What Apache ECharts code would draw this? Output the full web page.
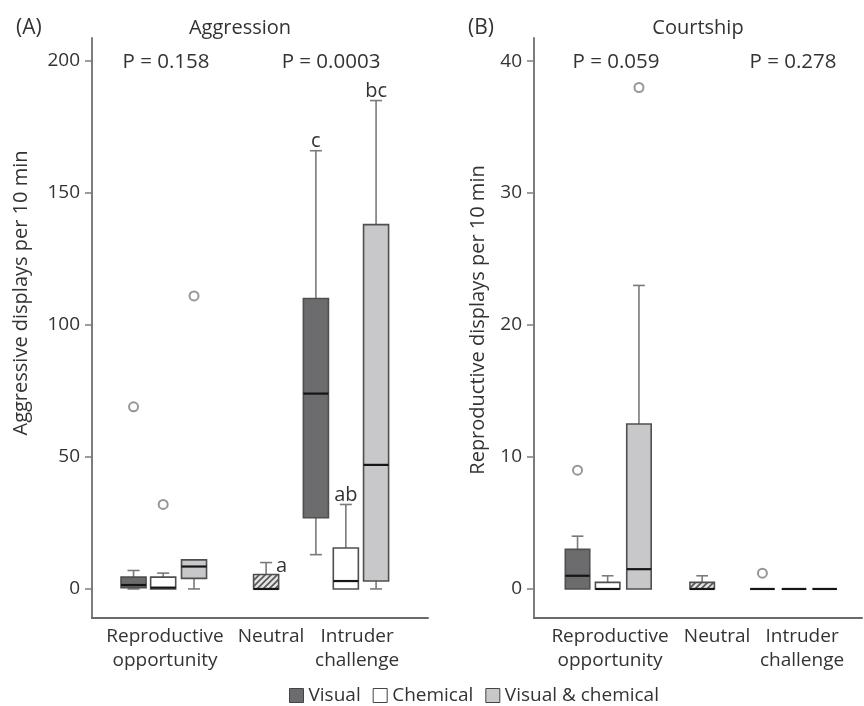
<!DOCTYPE html>
<html>
<head>
<meta charset="utf-8">
<style>
  html, body { margin: 0; padding: 0; background: #fff; }
  #chart { width: 864px; height: 706px; }
</style>
<script src="https://cdn.jsdelivr.net/npm/echarts@6/dist/echarts.min.js"></script>
</head>
<body>
<div id="chart"></div>
<script>
// ---- data ----
var groupNames = ['Reproductive\nopportunity', 'Neutral', 'Intruder\nchallenge'];
var aggTicks = [0, 50, 100, 150, 200];
var courtTicks = [0, 10, 20, 30, 40];

// box stats: [min, Q1, median, Q3, max], first = reproductive opportunity, second = intruder challenge
var aggVisual = [[0, 0.5, 1.5, 4.5, 7], [13, 27, 74, 110, 166]];
var aggChemical = [[0, 0, 0.5, 4.5, 6], [0, 0, 3, 15.5, 32]];
var aggBoth = [[0, 4, 8.5, 11, 11], [0, 3, 47, 138, 185]];
var aggNeutral = [[0, 0, 0, 5.5, 10]];
var aggOutVisual = [69];
var aggOutChemical = [32];
var aggOutBoth = [111];
var aggLettersVisual = ['', 'c'];
var aggLettersChemical = ['', 'ab'];
var aggLettersBoth = ['', 'bc'];
var aggLettersNeutral = ['a'];

var courtVisual = [[0, 0, 1, 3, 4], [0, 0, 0, 0, 0]];
var courtChemical = [[0, 0, 0, 0.5, 1], [0, 0, 0, 0, 0]];
var courtBoth = [[0, 0, 1.5, 12.5, 23], [0, 0, 0, 0, 0]];
var courtNeutral = [[0, 0, 0, 0.5, 1]];
var courtOutVisual = [9, 1.2];   // RO, IC
var courtOutBoth = [38];

var pAgg = ['P = 0.158', 'P = 0.0003'];
var pCourt = ['P = 0.059', 'P = 0.278'];

// ---- layout ----
var FONT = '"Open Sans", "Noto Sans", sans-serif';
var TXT = '#333';
var BOX_W = 0.82;
// x slots of the boxes on each panel's hidden value axis (0..11)
var posA = { visual: [1.36, 7.33], chemical: [2.33, 8.31], both: [3.34, 9.3], neutral: [5.7], labels: [2.39, 5.86, 8.68] };
var posB = { visual: [1.46, 7.66], chemical: [2.47, 8.72], both: [3.52, 9.75], neutral: [5.64], labels: [2.55, 6.14, 8.99] };

var fills = { visual: '#6c6c6f', chemical: '#ffffff', both: '#c8c8ca' };

function hatch() {
  var c = document.createElement('canvas');
  c.width = 6; c.height = 6;
  var g = c.getContext('2d');
  g.fillStyle = '#e4e4e4';
  g.fillRect(0, 0, 6, 6);
  g.strokeStyle = '#555';
  g.lineWidth = 1.6;
  g.beginPath();
  g.moveTo(-1, 7); g.lineTo(7, -1);
  g.moveTo(-1, 1); g.lineTo(1, -1);
  g.moveTo(5, 7); g.lineTo(7, 5);
  g.stroke();
  return c;
}
var hatchFill = { image: hatch(), repeat: 'repeat' };

function boxSeries(name, grid, xs, stats, letters, fill, letterRight) {
  var data = stats.map(function (s, i) { return [xs[i]].concat(s); });
  return {
    name: name,
    type: 'custom',
    xAxisIndex: grid,
    yAxisIndex: grid,
    itemStyle: { color: fill.image ? '#ccc' : fill, borderColor: '#4f4f4f' },
    encode: { x: 0, y: [1, 2, 3, 4, 5] },
    data: data,
    renderItem: function (params, api) {
      var x = api.value(0);
      var lo = api.coord([x, api.value(1)]);
      var q1 = api.coord([x, api.value(2)]);
      var md = api.coord([x, api.value(3)]);
      var q3 = api.coord([x, api.value(4)]);
      var hi = api.coord([x, api.value(5)]);
      var cx = lo[0];
      var w = api.size([BOX_W, 0])[0];
      var cw = w * 0.48;
      var whisk = { stroke: '#7a7a7a', lineWidth: 1.6 };
      var kids = [];
      if (q3[1] - hi[1] > 0.5) {
        kids.push({ type: 'line', shape: { x1: cx, y1: q3[1], x2: cx, y2: hi[1] }, style: whisk });
        kids.push({ type: 'line', shape: { x1: cx - cw / 2, y1: hi[1], x2: cx + cw / 2, y2: hi[1] }, style: whisk });
      }
      if (lo[1] - q1[1] > 0.5) {
        kids.push({ type: 'line', shape: { x1: cx, y1: q1[1], x2: cx, y2: lo[1] }, style: whisk });
        kids.push({ type: 'line', shape: { x1: cx - cw / 2, y1: lo[1], x2: cx + cw / 2, y2: lo[1] }, style: whisk });
      }
      kids.push({
        type: 'rect',
        shape: { x: cx - w / 2, y: q3[1], width: w, height: q1[1] - q3[1] },
        style: { fill: fill, stroke: '#4f4f4f', lineWidth: 1.6 }
      });
      kids.push({
        type: 'line',
        shape: { x1: cx - w / 2, y1: md[1], x2: cx + w / 2, y2: md[1] },
        style: { stroke: '#151515', lineWidth: 2.2 }
      });
      var letter = letters[params.dataIndex];
      if (letter) {
        kids.push({
          type: 'text',
          x: letterRight ? cx + cw / 2 + 4 : cx,
          y: letterRight ? hi[1] + 4 : hi[1] + 1,
          style: {
            text: letter, fill: TXT, fontSize: 20, fontFamily: FONT,
            align: letterRight ? 'left' : 'center',
            verticalAlign: letterRight ? 'middle' : 'bottom'
          }
        });
      }
      return { type: 'group', children: kids };
    }
  };
}

function outlierSeries(grid, pts) {
  return {
    name: 'outliers',
    type: 'scatter',
    xAxisIndex: grid,
    yAxisIndex: grid,
    symbol: 'emptyCircle',
    symbolSize: 9,
    itemStyle: { color: '#7d7d7d', borderWidth: 1.8 },
    data: pts
  };
}

function yAxisOf(grid, min, max, ticks) {
  return {
    type: 'value',
    gridIndex: grid,
    min: min,
    max: max,
    splitLine: { show: false },
    axisLine: { show: true, onZero: false, lineStyle: { color: '#7d7d7d', width: 2 } },
    axisTick: { show: true, length: 7, customValues: ticks, lineStyle: { color: '#7d7d7d', width: 1.5 } },
    axisLabel: { customValues: ticks, color: TXT, fontSize: 19, fontFamily: FONT, margin: 12 }
  };
}

function xAxisOf(grid, labelPos) {
  return {
    type: 'value',
    gridIndex: grid,
    min: 0,
    max: 11,
    splitLine: { show: false },
    axisLine: { show: true, onZero: false, lineStyle: { color: '#6a6a6a', width: 2 } },
    axisTick: { show: false },
    axisLabel: {
      customValues: labelPos,
      color: TXT, fontSize: 19, fontFamily: FONT, lineHeight: 24, margin: 7,
      formatter: function (v) { return groupNames[labelPos.indexOf(v)] || ''; }
    }
  };
}

function txt(text, x, y, align, rot, size) {
  return {
    type: 'text', x: x, y: y, rotation: rot || 0,
    style: {
      text: text, fill: TXT, fontSize: size || 20, fontFamily: FONT,
      align: align || 'center', verticalAlign: 'middle',
      textAlign: align || 'center', textVerticalAlign: 'middle'
    }
  };
}

var chart = echarts.init(document.getElementById('chart'));
chart.setOption({
  animation: false,
  textStyle: { fontFamily: FONT },
  grid: [
    { left: 92, top: 38, width: 336, height: 580 },
    { left: 534, top: 38, width: 328, height: 580 }
  ],
  xAxis: [xAxisOf(0, posA.labels), xAxisOf(1, posB.labels)],
  yAxis: [yAxisOf(0, -11, 208.7, aggTicks), yAxisOf(1, -2.2, 41.75, courtTicks)],
  legend: {
    left: 284,
    top: 681,
    itemWidth: 14,
    itemHeight: 14,
    itemGap: 12,
    textStyle: { fontSize: 19, color: TXT, fontFamily: FONT },
    data: [
      { name: 'Visual', icon: 'rect', itemStyle: { color: fills.visual, borderColor: '#444', borderWidth: 1 } },
      { name: 'Chemical', icon: 'rect', itemStyle: { color: fills.chemical, borderColor: '#444', borderWidth: 1 } },
      { name: 'Visual & chemical', icon: 'rect', itemStyle: { color: fills.both, borderColor: '#444', borderWidth: 1 } }
    ]
  },
  graphic: [
    txt('(A)', 16, 28, 'left', 0, 21),
    txt('Aggression', 240, 28),
    txt('(B)', 468, 28, 'left', 0, 21),
    txt('Courtship', 698, 28),
    txt(pAgg[0], 166, 62, 'center', 0, 20.5),
    txt(pAgg[1], 331, 62, 'center', 0, 20.5),
    txt(pCourt[0], 616, 62, 'center', 0, 20.5),
    txt(pCourt[1], 793, 62, 'center', 0, 20.5),
    txt('Aggressive displays per 10 min', 21, 293, 'center', Math.PI / 2),
    txt('Reproductive displays per 10 min', 478, 320, 'center', Math.PI / 2)
  ],
  series: [
    boxSeries('Visual', 0, posA.visual, aggVisual, aggLettersVisual, fills.visual),
    boxSeries('Chemical', 0, posA.chemical, aggChemical, aggLettersChemical, fills.chemical),
    boxSeries('Visual & chemical', 0, posA.both, aggBoth, aggLettersBoth, fills.both),
    boxSeries('Neutral', 0, posA.neutral, aggNeutral, aggLettersNeutral, hatchFill, true),
    outlierSeries(0, [
      [posA.visual[0], aggOutVisual[0]],
      [posA.chemical[0], aggOutChemical[0]],
      [posA.both[0], aggOutBoth[0]]
    ]),
    boxSeries('Visual', 1, posB.visual, courtVisual, ['', ''], fills.visual),
    boxSeries('Chemical', 1, posB.chemical, courtChemical, ['', ''], fills.chemical),
    boxSeries('Visual & chemical', 1, posB.both, courtBoth, ['', ''], fills.both),
    boxSeries('Neutral', 1, posB.neutral, courtNeutral, [''], hatchFill),
    outlierSeries(1, [
      [posB.visual[0], courtOutVisual[0]],
      [posB.visual[1], courtOutVisual[1]],
      [posB.both[0], courtOutBoth[0]]
    ])
  ]
});
</script>
</body>
</html>
